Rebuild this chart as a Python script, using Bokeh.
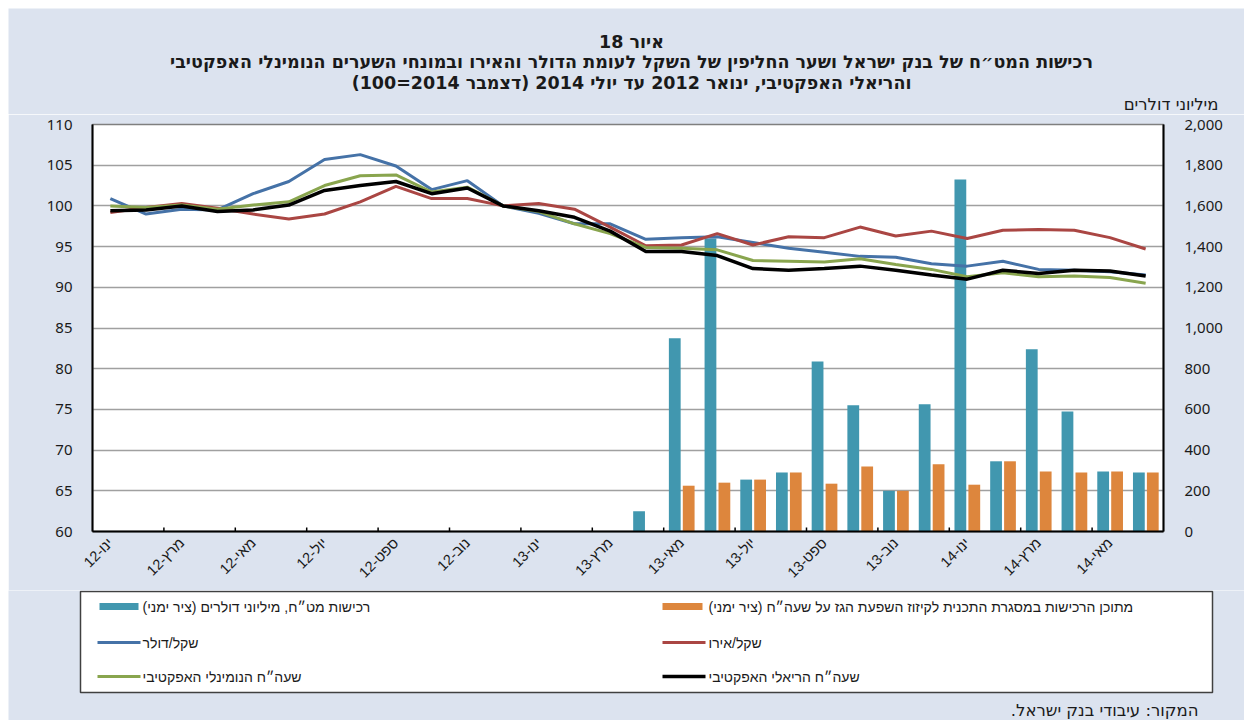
import math
from bokeh.plotting import figure
from bokeh.models import (Range1d, FactorRange, LinearAxis, FixedTicker, NumeralTickFormatter,
                          ColumnDataSource, CustomJSTickFormatter)
from bokeh.transform import dodge
from bokeh.core.properties import value
from bokeh.embed import file_html
from bokeh.resources import INLINE

# ---------------- data ----------------
months = ["ינו-12", "פבר-12", "מרץ-12", "אפר-12", "מאי-12", "יונ-12",
          "יול-12", "אוג-12", "ספט-12", "אוק-12", "נוב-12", "דצמ-12",
          "ינו-13", "פבר-13", "מרץ-13", "אפר-13", "מאי-13", "יונ-13",
          "יול-13", "אוג-13", "ספט-13", "אוק-13", "נוב-13", "דצמ-13",
          "ינו-14", "פבר-14", "מרץ-14", "אפר-14", "מאי-14", "יונ-14"]

# FX purchases, million USD (right axis)
purchases = [0, 0, 0, 0, 0, 0, 0, 0, 0, 0, 0, 0, 0, 0, 0,
             100, 950, 1440, 255, 290, 835, 620, 200, 625, 1730, 345, 895, 590, 295, 290]
# of which: gas-offset programme (right axis)
gas = [0, 0, 0, 0, 0, 0, 0, 0, 0, 0, 0, 0, 0, 0, 0,
       0, 225, 240, 255, 290, 235, 320, 200, 330, 230, 345, 295, 290, 295, 290]

usd = [100.9, 99.0, 99.6, 99.5, 101.5, 103.0, 105.7, 106.3, 104.9, 102.0,
       103.1, 100.0, 99.1, 97.8, 97.8, 95.9, 96.1, 96.2, 95.5, 94.8,
       94.3, 93.8, 93.7, 92.9, 92.6, 93.2, 92.2, 92.1, 91.9, 91.5]
eur = [99.2, 99.8, 100.3, 99.7, 99.0, 98.4, 99.0, 100.5, 102.4, 100.9,
       100.9, 100.0, 100.3, 99.6, 97.4, 95.1, 95.2, 96.6, 95.2, 96.2,
       96.1, 97.4, 96.3, 96.9, 96.0, 97.0, 97.1, 97.0, 96.1, 94.7]
nominal = [100.0, 99.8, 100.1, 99.6, 100.1, 100.5, 102.5, 103.7, 103.8, 101.7,
           102.3, 100.0, 99.3, 97.8, 96.6, 94.9, 94.8, 94.6, 93.3, 93.2,
           93.1, 93.5, 92.8, 92.2, 91.3, 91.8, 91.3, 91.4, 91.2, 90.5]
real = [99.4, 99.5, 100.0, 99.3, 99.5, 100.1, 101.9, 102.5, 103.0, 101.5,
        102.2, 100.0, 99.4, 98.6, 96.9, 94.4, 94.4, 93.9, 92.3, 92.1,
        92.3, 92.6, 92.1, 91.5, 91.0, 92.1, 91.7, 92.1, 92.0, 91.4]

left_ticks = [60, 65, 70, 75, 80, 85, 90, 95, 100, 105, 110]
right_ticks = [0, 200, 400, 600, 800, 1000, 1200, 1400, 1600, 1800, 2000]

title_lines = ["איור 18",
               "רכישות המט״ח של בנק ישראל ושער החליפין של השקל לעומת הדולר והאירו ובמונחי השערים הנומינלי האפקטיבי",
               "והריאלי האפקטיבי, ינואר 2012 עד יולי 2014 (דצמבר 2014=100)"]
right_unit = "מיליוני דולרים"
legend_labels = ["רכישות מט״ח, מיליוני דולרים (ציר ימני)",
                 "מתוכן הרכישות במסגרת התכנית לקיזוז השפעת הגז על שעה״ח (ציר ימני)",
                 "שקל/דולר", "שקל/אירו",
                 "שעה״ח הנומינלי האפקטיבי", "שעה״ח הריאלי האפקטיבי"]
source_note = "המקור: עיבודי בנק ישראל."

# ---------------- style ----------------
BG = "#DCE3EF"
TEAL = "#4197AF"
ORANGE = "#DD863D"
BLUE = "#4572A7"
RED = "#AA4643"
GREEN = "#89A54E"
BLACK = "#000000"
HEB = "Liberation Sans"
HEB_WIDE = "DejaVu Sans"
NUM = "Noto Sans"
TXT = "#1a1a1a"
W = 1236


def rtl(s):
    return "\u202B" + s + "\u202C"


def blank_panel(h, margin):
    f = figure(width=W, height=h, x_range=Range1d(0, W), y_range=Range1d(h, 0),
               output_backend="svg", toolbar_location=None, min_border=0,
               x_axis_location=None, y_axis_location=None, margin=margin,
               background_fill_color=BG, border_fill_color=BG, outline_line_color=None)
    f.grid.visible = False
    return f


# ---------------- header (page y 8..114) ----------------
hdr = blank_panel(106, (8, 8, 0, 8))
hdr.text(x=[623, 623, 623], y=[33.5, 53.5, 74], text=[rtl(t) for t in title_lines],
         text_font=value(HEB_WIDE), text_font_style="bold", text_font_size="17.5px",
         text_align="center", text_baseline="middle", text_color=TXT)
hdr.text(x=[1210], y=[96], text=[rtl(right_unit)], text_font=value(HEB_WIDE),
         text_font_size="16.5px", text_align="right", text_baseline="middle", text_color=TXT)

# ---------------- main chart (page y 114..590) ----------------
src = ColumnDataSource(dict(month=months, purchases=purchases, gas=gas,
                            usd=usd, eur=eur, nominal=nominal, real=real))

p = figure(width=W, height=476, x_range=FactorRange(*months), y_range=Range1d(60, 110),
           output_backend="svg", toolbar_location=None, margin=(0, 8, 0, 8),
           min_border_left=84, min_border_right=81, min_border_top=10, min_border_bottom=59,
           background_fill_color="white", border_fill_color=BG,
           outline_line_color="#7f7f7f", outline_line_width=1.5)
p.extra_y_ranges = {"right": Range1d(0, 2000)}

p.vbar(x=dodge("month", -0.19, range=p.x_range), top="purchases", width=0.33,
       source=src, y_range_name="right", fill_color=TEAL, line_color=None)
p.vbar(x=dodge("month", 0.2, range=p.x_range), top="gas", width=0.33,
       source=src, y_range_name="right", fill_color=ORANGE, line_color=None)

p.line(x="month", y="usd", source=src, line_color=BLUE, line_width=3)
p.line(x="month", y="eur", source=src, line_color=RED, line_width=3)
p.line(x="month", y="nominal", source=src, line_color=GREEN, line_width=3)
p.line(x="month", y="real", source=src, line_color=BLACK, line_width=3.5)

# small category-boundary ticks every two months
bx = [[months[i], -0.5] for i in range(2, len(months), 2)]
p.segment(x0=bx, x1=bx, y0=[60] * len(bx), y1=[60.5] * len(bx),
          line_color="black", line_width=1.5)

p.xgrid.visible = False
p.ygrid.ticker = FixedTicker(ticks=left_ticks)
p.ygrid.grid_line_color = "#a0a0a0"
p.ygrid.grid_line_width = 1.5

ya = p.yaxis[0]
ya.ticker = FixedTicker(ticks=left_ticks)
ya.major_tick_line_color = None
ya.minor_tick_line_color = None
ya.axis_line_width = 2
ya.axis_line_color = "black"
ya.major_label_standoff = 14
ya.major_label_text_font = NUM
ya.major_label_text_font_size = "15px"
ya.major_label_text_color = TXT

ra = LinearAxis(y_range_name="right", ticker=FixedTicker(ticks=right_ticks),
                formatter=NumeralTickFormatter(format="0,0"))
ra.major_tick_line_color = None
ra.minor_tick_line_color = None
ra.axis_line_width = 2
ra.axis_line_color = "black"
ra.major_label_standoff = 15
ra.major_label_text_font = NUM
ra.major_label_text_font_size = "15px"
ra.major_label_text_color = TXT
p.add_layout(ra, "right")

xlabels = [m if i % 2 == 0 else "" for i, m in enumerate(months)]
xa = p.xaxis[0]
xa.formatter = CustomJSTickFormatter(args=dict(labels=xlabels), code="return labels[index]")
xa.major_label_orientation = math.pi / 4
xa.major_tick_line_color = None
xa.axis_line_width = 2
xa.axis_line_color = "black"
xa.major_label_standoff = 3
xa.major_label_text_font = HEB
xa.major_label_text_font_size = "14.5px"
xa.major_label_text_color = TXT

# ---------------- legend + source (page y 590..720) ----------------
lg = blank_panel(130, (0, 8, 8, 8))
lg.quad(left=[72], right=[1204], top=[1], bottom=[102], fill_color="white",
        line_color="#404040", line_width=1.5)
row_y = [16, 52, 86]
lg.quad(left=[91, 654], right=[130, 694], top=[12.5, 12.5], bottom=[19.5, 19.5],
        fill_color=[TEAL, ORANGE], line_color=None)
lg.segment(x0=[89, 654, 89, 654], x1=[132, 697, 132, 697],
           y0=[row_y[1], row_y[1], row_y[2], row_y[2]],
           y1=[row_y[1], row_y[1], row_y[2], row_y[2]],
           line_color=[BLUE, RED, GREEN, BLACK], line_width=[3, 3, 3, 3.5])
lg.text(x=[134, 700, 134, 700, 134, 700],
        y=[row_y[0], row_y[0], row_y[1], row_y[1], row_y[2], row_y[2]],
        text=[rtl(t) for t in legend_labels], text_font=value(HEB),
        text_font_size="14px", text_align="left", text_baseline="middle", text_color=TXT)
lg.text(x=[1190], y=[120], text=[rtl(source_note)], text_font=value(HEB_WIDE),
        text_font_size="16.5px", text_align="right", text_baseline="middle", text_color=TXT)

open("out.html", "w").write(file_html([hdr, p, lg], INLINE))
